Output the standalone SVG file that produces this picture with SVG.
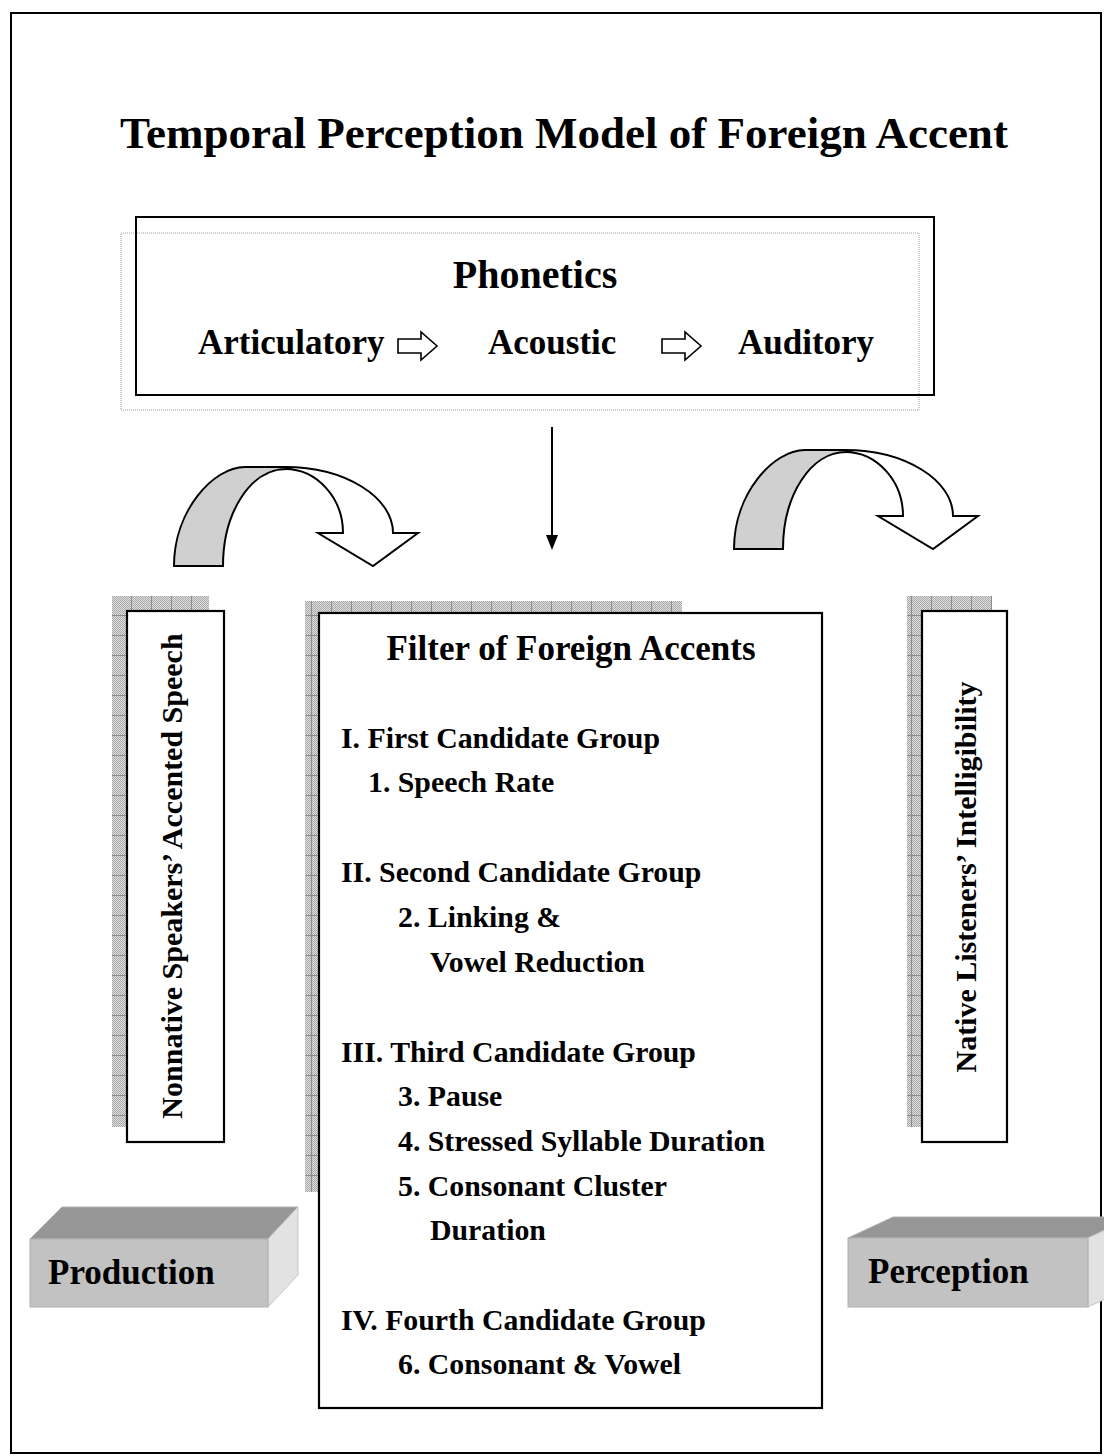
<svg xmlns="http://www.w3.org/2000/svg" xmlns:xlink="http://www.w3.org/1999/xlink" width="1104" height="1456" viewBox="0 0 1104 1456">
<style>
text{font-family:"Liberation Serif","Times New Roman",serif;font-weight:bold;fill:#000}
.t{font-size:45px}
.h{font-size:40px}
.m{font-size:35px}
.s{font-size:29.8px}
.v{font-size:30px}
.box{fill:#fff;stroke:#000;stroke-width:2.2}
.sh{fill:url(#hatch)}
.cw{fill:#fff;stroke:#000;stroke-width:2;stroke-linejoin:miter}
.cg{fill:#d0d0d0;stroke:#000;stroke-width:2}
</style>
<defs>
<pattern id="dots" width="2" height="2" patternUnits="userSpaceOnUse">
<rect width="2" height="2" fill="#e0e0e0"/>
<rect width="1" height="1" fill="#a8a8a8"/>
<rect x="1" y="1" width="1" height="1" fill="#a8a8a8"/>
</pattern>
<pattern id="hatch" width="20" height="20" patternUnits="userSpaceOnUse" x="112" y="596">
<rect width="20" height="20" fill="url(#dots)"/>
<rect x="19" width="1" height="20" fill="#8c8c8c"/>
<rect y="19" width="20" height="1" fill="#8c8c8c"/>
</pattern>
<g id="curve">
<path class="cw" d="M245,467 L285,467 C345,467 393,497 393,533 L418,533 L373,566 L318,533 L343,533 C343,498 317,469 285,469 Z"/>
<path class="cg" d="M174,566 C174,511 213,467 245,467 L285,467 L286,469 C251,469 223,512 223,566 Z"/>
</g>
<path id="block" d="M0,7 H23 V0 L39,14 L23,28 V21 H0 Z" fill="#fff" stroke="#000" stroke-width="1.6"/>
</defs>

<rect x="11" y="13" width="1090" height="1440" fill="#fff" stroke="#000" stroke-width="2"/>

<text class="t" x="564" y="148" text-anchor="middle">Temporal Perception Model of Foreign Accent</text>

<g id="phonetics">
<rect x="121" y="233" width="798" height="177" fill="none" stroke="#9a9a9a" stroke-width="1" stroke-dasharray="1 1"/>
<rect x="136" y="217" width="798" height="178" fill="none" stroke="#000" stroke-width="2"/>
<text class="h" x="535" y="288" text-anchor="middle">Phonetics</text>
<text class="m" x="198" y="354">Articulatory</text>
<text class="m" x="488" y="354">Acoustic</text>
<text class="m" x="738" y="354">Auditory</text>
<use xlink:href="#block" href="#block" x="398" y="332"/>
<use xlink:href="#block" href="#block" x="662" y="332"/>
</g>

<g id="connectors">
<line x1="552" y1="427" x2="552" y2="537" stroke="#000" stroke-width="2"/>
<polygon points="546,535 558,535 552,550" fill="#000"/>
<use xlink:href="#curve" href="#curve"/>
<use xlink:href="#curve" href="#curve" transform="translate(560,-17)"/>
</g>

<g id="nonnative">
<rect class="sh" x="112" y="596" width="97" height="531"/>
<rect class="box" x="127" y="611" width="97" height="531"/>
<text class="v" transform="translate(182,876) rotate(-90)" text-anchor="middle">Nonnative Speakers’ Accented Speech</text>
</g>

<g id="filter">
<rect class="sh" x="305" y="601" width="377" height="591"/>
<rect class="box" x="319" y="613" width="503" height="795"/>
<text class="m" x="571" y="660" text-anchor="middle">Filter of Foreign Accents</text>
<text class="s" x="341" y="748">I. First Candidate Group</text>
<text class="s" x="368" y="792">1. Speech Rate</text>
<text class="s" x="341" y="882">II. Second Candidate Group</text>
<text class="s" x="398" y="927">2. Linking &amp;</text>
<text class="s" x="430" y="972">Vowel Reduction</text>
<text class="s" x="341" y="1062">III. Third Candidate Group</text>
<text class="s" x="398" y="1106">3. Pause</text>
<text class="s" x="398" y="1151">4. Stressed Syllable Duration</text>
<text class="s" x="398" y="1196">5. Consonant Cluster</text>
<text class="s" x="430" y="1240">Duration</text>
<text class="s" x="341" y="1330">IV. Fourth Candidate Group</text>
<text class="s" x="398" y="1374">6. Consonant &amp; Vowel</text>
</g>

<g id="native">
<rect class="sh" x="907" y="596" width="85" height="531"/>
<rect class="box" x="922" y="611" width="85" height="531"/>
<text class="v" transform="translate(976,877) rotate(-90)" text-anchor="middle">Native Listeners’ Intelligibility</text>
</g>

<g id="production">
<polygon points="30,1239 62,1207 298,1207 268,1239" fill="#969696" stroke="#b0b0b0" stroke-width="1"/>
<polygon points="268,1239 298,1207 298,1275 268,1307" fill="#e2e2e2" stroke="#c8c8c8" stroke-width="1"/>
<rect x="30" y="1239" width="238" height="68" fill="#c2c2c2" stroke="#b0b0b0" stroke-width="1"/>
<text class="m" x="48" y="1284">Production</text>
</g>

<g id="perception">
<polygon points="848,1238 893,1217 1133,1217 1088,1238" fill="#969696" stroke="#b0b0b0" stroke-width="1"/>
<polygon points="1088,1238 1133,1217 1133,1286 1088,1307" fill="#e2e2e2" stroke="#c8c8c8" stroke-width="1"/>
<rect x="848" y="1238" width="240" height="69" fill="#c2c2c2" stroke="#b0b0b0" stroke-width="1"/>
<text class="m" x="868" y="1283">Perception</text>
</g>
</svg>
